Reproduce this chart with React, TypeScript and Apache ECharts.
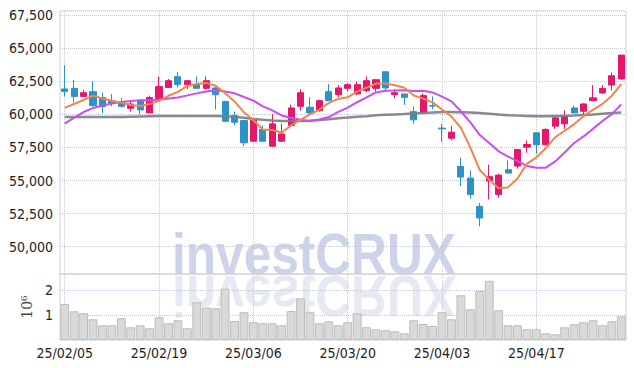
import React, { useEffect, useRef } from 'react';
import * as echarts from 'echarts';

const dates = [
  '25/02/05','25/02/06','25/02/07','25/02/10','25/02/11','25/02/12','25/02/13','25/02/14','25/02/17','25/02/18',
  '25/02/19','25/02/20','25/02/21','25/02/24','25/02/25','25/02/26','25/02/27','25/02/28','25/03/04','25/03/05',
  '25/03/06','25/03/07','25/03/10','25/03/11','25/03/12','25/03/13','25/03/14','25/03/17','25/03/18','25/03/19',
  '25/03/20','25/03/21','25/03/24','25/03/25','25/03/26','25/03/27','25/03/28','25/03/31','25/04/01','25/04/02',
  '25/04/03','25/04/04','25/04/07','25/04/08','25/04/09','25/04/10','25/04/11','25/04/14','25/04/15','25/04/16',
  '25/04/17','25/04/18','25/04/21','25/04/22','25/04/23','25/04/24','25/04/25','25/04/28','25/04/29','25/04/30',
];

const opens = [
  61910, 61960, 61350, 61710, 61260, 61010, 60900, 60450, 61030, 60100,
  61200, 62030, 62840, 62240, 62240, 61960, 61990, 60960, 59900, 59530,
  57970, 58850, 57590, 57970, 59150, 60600, 60530, 60280, 61710, 61480,
  61960, 61540, 61790, 61960, 63210, 61480, 61540, 60200, 60150, 60660,
  58960, 58190, 56060, 55180, 53050, 54960, 53950, 55810, 56090, 57520,
  58600, 57700, 59100, 59280, 60480, 60230, 61030, 61610, 62210, 62670,
];
const closes = [
  61730, 61350, 61630, 60650, 60580, 60860, 60600, 60780, 60330, 61260,
  62090, 62540, 62260, 62540, 61960, 62540, 61480, 59470, 59400, 57850,
  59550, 57970, 59280, 58520, 60480, 61630, 60100, 61030, 61030, 61990,
  62240, 62240, 62540, 62610, 61990, 61630, 61280, 59580, 61410, 60620,
  58900, 58650, 55260, 53950, 52170, 55290, 55410, 55560, 57340, 57720,
  57700, 58850, 59730, 59830, 60100, 60780, 61240, 61960, 62910, 64470,
];
const lows = [
  61350, 60880, 61280, 60580, 60090, 60600, 60530, 60200, 60000, 60100,
  61200, 61990, 62030, 61910, 61960, 61860, 60350, 59470, 59150, 57590,
  57940, 57900, 57560, 57910, 59070, 60280, 60030, 60200, 61030, 61280,
  61730, 61460, 61660, 61710, 61730, 61200, 60710, 59280, 60100, 60400,
  57920, 58020, 54580, 53630, 51540, 53560, 53700, 55560, 55890, 57090,
  57020, 57640, 58900, 58900, 60100, 59980, 61030, 61540, 61790, 62590,
];
const highs = [
  63720, 62590, 61840, 62510, 61630, 61540, 61230, 61080, 61080, 61410,
  62840, 62670, 63210, 62590, 62860, 62860, 62030, 61030, 60200, 59530,
  59640, 59150, 60010, 59280, 60730, 61900, 61280, 61110, 62290, 62210,
  62330, 62460, 62860, 62670, 63210, 61910, 61540, 60600, 61580, 61350,
  59250, 59150, 56720, 55760, 53300, 56200, 55510, 56510, 57390, 58020,
  58600, 58950, 59770, 60280, 60660, 60830, 62210, 62210, 63160, 64470,
];

const volumes = [
  1440000, 1150000, 1070000, 830000, 590000, 590000, 870000, 510000, 590000, 470000,
  910000, 670000, 790000, 470000, 1510000, 1300000, 1270000, 2050000, 760000, 1110000,
  710000, 670000, 670000, 590000, 1160000, 1670000, 1110000, 670000, 750000, 590000,
  710000, 1070000, 510000, 430000, 390000, 350000, 270000, 790000, 640000, 560000,
  1110000, 830000, 1790000, 1230000, 1960000, 2370000, 1190000, 590000, 590000, 430000,
  430000, 270000, 230000, 510000, 630000, 710000, 790000, 590000, 750000, 950000,
];

const ma5 = [
  60480, 60780, 61080, 61410, 61190, 61020, 60870, 60700, 60630, 60770,
  61010, 61400, 61690, 62140, 62280, 62370, 62160, 61600, 60970, 60150,
  59550, 58850, 58810, 58630, 59160, 59580, 60000, 60360, 60860, 61160,
  61280, 61710, 62010, 62320, 62320, 62200, 62010, 61420, 61180, 60900,
  60360, 59830, 58970, 57480, 55790, 55060, 54420, 54480, 55150, 56260,
  56750, 57430, 58270, 58760, 59240, 59860, 60340, 60780, 61400, 62270,
];
const ma10 = [
  59300, 59750, 60170, 60470, 60660, 60810, 60930, 61010, 61070, 61050,
  61100, 61190, 61270, 61430, 61580, 61720, 61810, 61720, 61590, 61310,
  61030, 60600, 60300, 59910, 59720, 59580, 59500, 59610, 59790, 60180,
  60510, 60910, 61280, 61650, 61780, 61790, 61820, 61750, 61770, 61650,
  61330, 60980, 60230, 59390, 58430, 57830, 57200, 56810, 56460, 56100,
  55960, 55970, 56440, 57110, 57830, 58330, 58900, 59490, 60010, 60750,
];
const maLong = [
  59800, 59800, 59790, 59790, 59790, 59790, 59800, 59820, 59840, 59860,
  59870, 59880, 59880, 59880, 59880, 59880, 59870, 59850, 59820, 59740,
  59650, 59580, 59530, 59500, 59490, 59500, 59520, 59570, 59630, 59700,
  59750, 59810, 59860, 59920, 59960, 59990, 60020, 60060, 60090, 60140,
  60180, 60180, 60160, 60130, 60090, 60040, 59980, 59930, 59900, 59880,
  59860, 59860, 59870, 59880, 59900, 59940, 59980, 60040, 60090, 60130,
];

const priceTicks = [50000, 52500, 55000, 57500, 60000, 62500, 65000, 67500];
const volumeTicks = [1000000, 2000000];

const UP = '#e3186c';
const DOWN = '#2b93c7';
const LABEL_FONT = "'Liberation Sans Narrow', 'Arial Narrow', 'DejaVu Sans Condensed', sans-serif";
const GRID_LINE = { type: 'dotted', color: '#c2c7d8', width: 1 };
const WM_FONT = "bold 57px 'Liberation Sans', Arial, sans-serif";

export default function App() {
  const ref = useRef<HTMLDivElement>(null);

  useEffect(() => {
    if (!ref.current) return;
    const chart = echarts.init(ref.current, undefined, { renderer: 'svg' });
    const candles = dates.map((_, i) => [opens[i], closes[i], lows[i], highs[i]]);

    const option: any = {
      animation: false,
      backgroundColor: '#ffffff',
      grid: [
        { left: 60, width: 566, top: 11, height: 263, show: true, borderColor: '#d0d0d0', borderWidth: 1 },
        { left: 60, width: 566, top: 274, height: 66, show: true, borderColor: '#d0d0d0', borderWidth: 1 },
      ],
      graphic: [
        {
          type: 'text', x: 172, y: 283, scaleX: 0.87, z: -10, silent: true,
          style: { text: 'investCRUX', font: WM_FONT, fill: '#cdd3e8', align: 'left', verticalAlign: 'bottom' },
        },
        {
          type: 'text', x: 172, y: 267, scaleX: 0.87, scaleY: -1, z: -10, silent: true,
          style: { text: 'investCRUX', font: WM_FONT, fill: '#e6e9f2', align: 'left', verticalAlign: 'bottom' },
        },
      ],
      xAxis: [
        {
          type: 'category', gridIndex: 0, data: dates, boundaryGap: true,
          axisLine: { show: false }, axisTick: { show: false }, axisLabel: { show: false },
          splitLine: { show: true, interval: 9, alignWithLabel: true, lineStyle: GRID_LINE },
        },
        {
          type: 'category', gridIndex: 1, data: dates, boundaryGap: true,
          axisLine: { show: false }, axisTick: { show: false },
          axisLabel: { interval: 9, color: '#1e1e1e', fontSize: 14, fontFamily: LABEL_FONT, margin: 6 },
          splitLine: { show: true, interval: 9, alignWithLabel: true, lineStyle: GRID_LINE },
        },
      ],
      yAxis: [
        {
          type: 'value', gridIndex: 0, min: 47940, max: 67800, scale: true,
          axisLine: { show: false },
          axisTick: { show: false, customValues: priceTicks },
          axisLabel: {
            customValues: priceTicks, color: '#1e1e1e', fontSize: 14, fontFamily: LABEL_FONT, margin: 7,
            formatter: (v: number) => v.toLocaleString('en-US'),
          },
          splitLine: { show: true, lineStyle: GRID_LINE },
        },
        {
          type: 'value', gridIndex: 1, min: 0, max: 2640000,
          name: '10\u2076', nameLocation: 'middle', nameRotate: 90, nameGap: 24,
          nameTextStyle: { fontFamily: "'DejaVu Serif', serif", fontSize: 14, color: '#444' },
          axisLine: { show: false },
          axisTick: { show: false, customValues: volumeTicks },
          axisLabel: {
            customValues: volumeTicks, color: '#1e1e1e', fontSize: 14, fontFamily: LABEL_FONT, margin: 7,
            formatter: (v: number) => String(Math.round(v / 1000000)),
          },
          splitLine: { show: true, lineStyle: GRID_LINE },
        },
      ],
      series: [
        {
          type: 'candlestick', xAxisIndex: 0, yAxisIndex: 0, data: candles, barWidth: '70%',
          itemStyle: { color: UP, color0: DOWN, borderColor: UP, borderColor0: DOWN, borderWidth: 1 },
        },
        {
          type: 'line', xAxisIndex: 0, yAxisIndex: 0, data: maLong, symbol: 'none', silent: true,
          lineStyle: { color: '#7d7d7d', width: 2.5, opacity: 0.9 },
        },
        {
          type: 'line', xAxisIndex: 0, yAxisIndex: 0, data: ma10, symbol: 'none', silent: true,
          lineStyle: { color: '#c94ef0', width: 2 },
        },
        {
          type: 'line', xAxisIndex: 0, yAxisIndex: 0, data: ma5, symbol: 'none', silent: true,
          lineStyle: { color: '#f0864a', width: 2 },
        },
        {
          type: 'bar', xAxisIndex: 1, yAxisIndex: 1, data: volumes, barCategoryGap: '6%',
          itemStyle: { color: '#d9d9d9', borderColor: '#bdbdbd', borderWidth: 1 },
        },
      ],
    };

    chart.setOption(option);
    return () => chart.dispose();
  }, []);

  return <div ref={ref} style={{ width: 634, height: 368, position: 'absolute', left: 0, top: 0 }} />;
}
